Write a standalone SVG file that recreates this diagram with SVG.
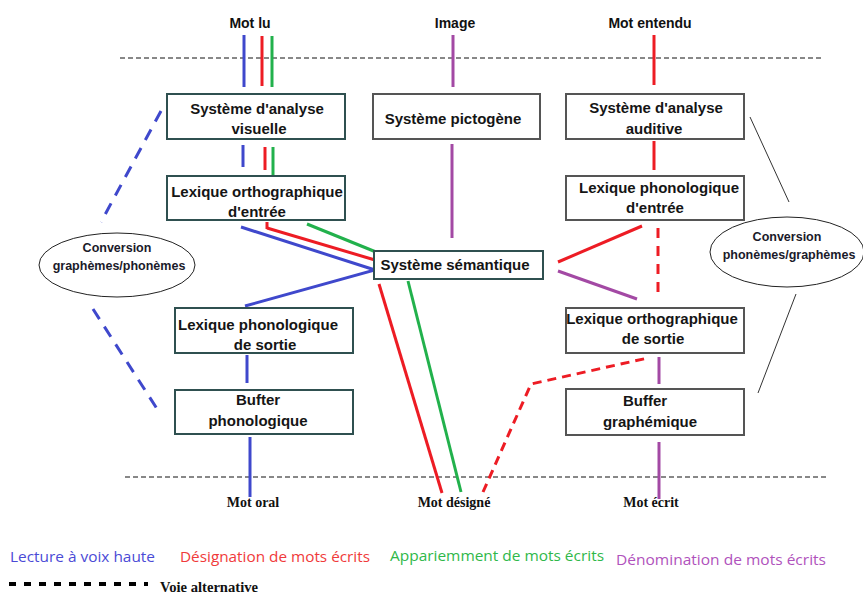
<svg xmlns="http://www.w3.org/2000/svg" width="863" height="595" viewBox="0 0 863 595">
  <style>
    .box { fill: #ffffff; stroke: #555555; stroke-width: 2; }
    .teal { stroke: #2f5050; }
    .lbl { font-family: "Liberation Sans", Arial, sans-serif; font-weight: bold; font-size: 15px; fill: #151515; text-anchor: middle; }
    .head { font-family: "Liberation Sans", Arial, sans-serif; font-weight: bold; font-size: 14px; fill: #111; text-anchor: middle; }
    .out { font-family: "Liberation Serif", "Times New Roman", serif; font-weight: bold; font-size: 14px; fill: #111; text-anchor: middle; }
    .note { font-family: "Liberation Serif", "Times New Roman", serif; font-weight: bold; font-size: 14.5px; fill: #111; }
    .conv { font-family: "Liberation Sans", Arial, sans-serif; font-weight: bold; font-size: 12.5px; fill: #1a1a2a; text-anchor: middle; }
    .leg { font-family: "Open Sans", "Liberation Sans", sans-serif; font-size: 15px; }
    .c { fill: none; stroke-width: 3; stroke-linecap: butt; }
    .b { stroke: #3f48cc; }
    .r { stroke: #ed1c24; }
    .g { stroke: #22b14c; }
    .p { stroke: #a349a4; }
    .sep { fill: none; stroke: #111; stroke-width: 1; stroke-dasharray: 5 3; }
    .thin { fill: none; stroke: #333; stroke-width: 1; }
  </style>

  <!-- input / output levels -->
  <text class="head" x="250" y="28">Mot lu</text>
  <text class="head" x="455" y="28">Image</text>
  <text class="head" x="650" y="28">Mot entendu</text>
  <line class="sep" x1="120" y1="58" x2="822" y2="58"/>
  <line class="sep" x1="125" y1="477" x2="827" y2="477"/>
  <text class="out" x="253" y="507">Mot oral</text>
  <text class="out" x="454" y="507">Mot désigné</text>
  <text class="out" x="651" y="507">Mot écrit</text>

  <!-- connectors -->
  <g id="connectors">
    <!-- Mot lu -->
    <line class="c b" x1="244" y1="35" x2="244" y2="87"/>
    <line class="c r" x1="262" y1="36" x2="262" y2="86"/>
    <line class="c g" x1="272" y1="36" x2="272" y2="87"/>
    <line class="c b" x1="243" y1="145" x2="243" y2="167"/>
    <line class="c r" x1="265" y1="147" x2="265" y2="170"/>
    <line class="c g" x1="273" y1="147" x2="273" y2="175"/>
    <!-- Image -->
    <line class="c p" x1="453" y1="35" x2="453" y2="87"/>
    <line class="c p" x1="452" y1="144" x2="452" y2="238"/>
    <!-- Mot entendu -->
    <line class="c r" x1="654" y1="35" x2="654" y2="85"/>
    <line class="c r" x1="654" y1="141" x2="654" y2="170"/>
    <!-- lexique orthographique d'entrée -> système sémantique -->
    <polyline class="c b" points="241,227 375,270 245,306"/>
    <line class="c r" x1="267" y1="222" x2="267" y2="229"/>
    <line class="c r" x1="267" y1="228" x2="375" y2="260"/>
    <line class="c g" x1="307" y1="224" x2="376" y2="252"/>
    <!-- système sémantique -> mot désigné -->
    <line class="c r" x1="379" y1="284" x2="442" y2="493"/>
    <line class="c g" x1="408" y1="281" x2="461" y2="492"/>
    <polyline class="c r" stroke-dasharray="9 6" points="483,492 531,384 648,358"/>
    <!-- right column -->
    <line class="c r" x1="558" y1="262" x2="642" y2="226"/>
    <line class="c p" x1="558" y1="271" x2="637" y2="299"/>
    <line class="c r" stroke-dasharray="10 8" x1="658" y1="228" x2="658" y2="298"/>
    <line class="c p" x1="659" y1="357" x2="659" y2="384"/>
    <line class="c p" x1="659" y1="442" x2="659" y2="499"/>
    <!-- output phonology -->
    <line class="c b" x1="247" y1="355" x2="247" y2="383"/>
    <line class="c b" x1="250" y1="437" x2="250" y2="497"/>
    <!-- grapheme/phoneme conversion route -->
    <line class="c b" stroke-dasharray="12 9" x1="161" y1="111" x2="101" y2="222"/>
    <line class="c b" stroke-dasharray="12 9" x1="93" y1="309" x2="161" y2="415"/>
    <!-- phoneme/grapheme conversion route -->
    <line class="thin" x1="750" y1="117" x2="789" y2="202"/>
    <line class="thin" x1="796" y1="294" x2="758" y2="393"/>
  </g>

  <!-- left column -->
  <g id="analyse-visuelle">
    <rect class="box teal" x="167" y="94" width="178" height="45"/>
    <text class="lbl" x="257" y="114">Système d'analyse</text>
    <text class="lbl" x="259" y="134">visuelle</text>
  </g>
  <g id="lexique-ortho-entree">
    <rect class="box teal" x="167" y="176" width="178" height="44"/>
    <text class="lbl" x="257" y="197">Lexique orthographique</text>
    <text class="lbl" x="257" y="217">d'entrée</text>
  </g>
  <g id="lexique-phono-sortie">
    <rect class="box teal" x="175" y="308" width="178" height="45"/>
    <text class="lbl" x="258" y="330">Lexique phonologique</text>
    <text class="lbl" x="265" y="350">de sortie</text>
  </g>
  <g id="buffer-phono">
    <rect class="box teal" x="175" y="390" width="178" height="44"/>
    <text class="lbl" x="258" y="405">Bufter</text>
    <text class="lbl" x="258" y="426">phonologique</text>
  </g>

  <!-- middle column -->
  <g id="pictogene">
    <rect class="box" x="373" y="94" width="167" height="45"/>
    <text class="lbl" x="453" y="124">Système pictogène</text>
  </g>
  <g id="semantique">
    <rect class="box teal" x="374" y="251" width="169" height="28"/>
    <text class="lbl" x="455" y="270">Système sémantique</text>
  </g>

  <!-- right column -->
  <g id="analyse-auditive">
    <rect class="box" x="566" y="94" width="178" height="45"/>
    <text class="lbl" x="656" y="113">Système d'analyse</text>
    <text class="lbl" x="654" y="134">auditive</text>
  </g>
  <g id="lexique-phono-entree">
    <rect class="box" x="566" y="176" width="178" height="44"/>
    <text class="lbl" x="659" y="193">Lexique phonologique</text>
    <text class="lbl" x="655" y="213">d'entrée</text>
  </g>
  <g id="lexique-ortho-sortie">
    <rect class="box" x="566" y="308" width="178" height="45"/>
    <text class="lbl" x="652" y="324">Lexique orthographique</text>
    <text class="lbl" x="653" y="344">de sortie</text>
  </g>
  <g id="buffer-graph">
    <rect class="box" x="566" y="389" width="178" height="46"/>
    <text class="lbl" x="645" y="406">Buffer</text>
    <text class="lbl" x="650" y="427">graphémique</text>
  </g>

  <!-- conversion ellipses -->
  <g id="conv-gp">
    <ellipse cx="117" cy="265" rx="78" ry="32" fill="#fff" stroke="#222" stroke-width="1"/>
    <text class="conv" x="117" y="252">Conversion</text>
    <text class="conv" x="119" y="270">graphèmes/phonèmes</text>
  </g>
  <g id="conv-pg">
    <ellipse cx="787" cy="252" rx="77" ry="35" fill="#fff" stroke="#222" stroke-width="1"/>
    <text class="conv" x="787" y="241">Conversion</text>
    <text class="conv" x="789" y="259">phonèmes/graphèmes</text>
  </g>

  <!-- legend -->
  <g id="legend">
    <text class="leg" x="10" y="562" fill="#4a4ad6" textLength="145" lengthAdjust="spacingAndGlyphs">Lecture à voix haute</text>
    <text class="leg" x="180" y="562" fill="#f03a3a" textLength="190" lengthAdjust="spacingAndGlyphs">Désignation de mots écrits</text>
    <text class="leg" x="390" y="561" fill="#2fb84a" textLength="214" lengthAdjust="spacingAndGlyphs">Appariemment de mots écrits</text>
    <text class="leg" x="616" y="565" fill="#b052bc" textLength="210" lengthAdjust="spacingAndGlyphs">Dénomination de mots écrits</text>
    <line x1="9" y1="584" x2="148" y2="584" stroke="#000" stroke-width="4" stroke-dasharray="7 8"/>
    <text class="note" x="160" y="592" textLength="98" lengthAdjust="spacingAndGlyphs">Voie alternative</text>
  </g>
</svg>
